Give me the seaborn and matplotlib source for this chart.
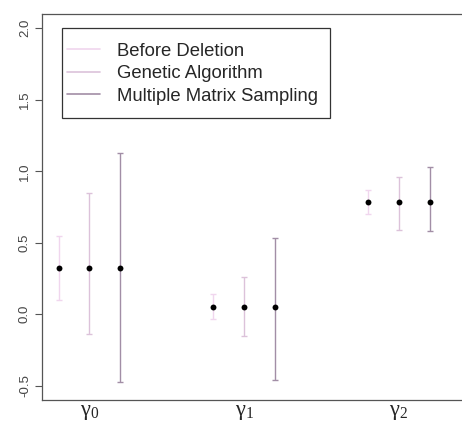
import matplotlib
matplotlib.use("Agg")
import matplotlib.pyplot as plt
import matplotlib.patches as mpatches
import seaborn as sns
import pandas as pd
import numpy as np

params = [r"$\mathrm{\gamma}_{0}$", r"$\mathrm{\gamma}_{1}$", r"$\mathrm{\gamma}_{2}$"]
methods = ["Before Deletion", "Genetic Algorithm", "Multiple Matrix Sampling"]
estimate = [0.32, 0.05, 0.785]
lower = {
    "Before Deletion": [0.10, -0.03, 0.70],
    "Genetic Algorithm": [-0.135, -0.155, 0.59],
    "Multiple Matrix Sampling": [-0.475, -0.46, 0.58],
}
upper = {
    "Before Deletion": [0.545, 0.14, 0.87],
    "Genetic Algorithm": [0.85, 0.26, 0.96],
    "Multiple Matrix Sampling": [1.13, 0.53, 1.03],
}
colors = {"Before Deletion": "#f0d6ee", "Genetic Algorithm": "#dcc2da", "Multiple Matrix Sampling": "#a28ea6"}
yticks = [-0.5, 0.0, 0.5, 1.0, 1.5, 2.0]

offsets = {m: o for m, o in zip(methods, [-0.2, 0.0, 0.2])}
rows = []
for i, p in enumerate(params):
    for m in methods:
        rows.append({"param": p, "method": m, "x": i + 1 + offsets[m],
                     "est": estimate[i], "lo": lower[m][i], "hi": upper[m][i]})
df = pd.DataFrame(rows)

sns.set_style("white")
plt.rcParams["font.family"] = ["Liberation Sans", "DejaVu Sans"]
plt.rcParams["mathtext.fontset"] = "custom"
plt.rcParams["mathtext.rm"] = "Liberation Serif"
plt.rcParams["mathtext.it"] = "Liberation Serif"

W, H = 462, 425
fig = plt.figure(figsize=(W / 100, H / 100), dpi=100)
ax = fig.add_axes([42 / W, 25 / H, 1 - 42 / W + 0.01, 386 / H])

for m in methods:
    sub = df[df.method == m]
    ax.errorbar(sub.x, sub.est, yerr=[sub.est - sub.lo, sub.hi - sub.est], fmt="none",
                ecolor=colors[m], elinewidth=1.0, capsize=2.2, capthick=1.0, label=m)
sns.scatterplot(data=df, x="x", y="est", color="black", s=18, edgecolor="black",
                linewidth=0, ax=ax, zorder=5, legend=False)

ax.set_xlim(0.693, 3.44)
ax.set_ylim(-0.6, 2.1)
ax.set_xticks([1, 2, 3])
ax.set_xticklabels(params, fontsize=16)
ax.set_yticks(yticks)
ax.set_yticklabels([f"{v:.1f}" for v in yticks], rotation=90, va="center", fontsize=9.5, color="#444444")
ax.tick_params(axis="y", length=5, width=0.8, color="#555555", left=True, pad=3)
ax.tick_params(axis="x", length=0, pad=1)
ax.set_xlabel("")
ax.set_ylabel("")
for s in ["left", "top", "bottom"]:
    ax.spines[s].set_color("#555555")
    ax.spines[s].set_linewidth(0.9)
ax.spines["right"].set_visible(False)

handles = [plt.Line2D([], [], color=colors[m], lw=1.2) for m in methods]
leg = ax.legend(handles, methods, loc="upper left", bbox_to_anchor=(67 / W, 1 - 42.5 / H),
                bbox_transform=fig.transFigure,
                frameon=False, fontsize=13.3, handlelength=1.8,
                handletextpad=0.9, labelspacing=0.3, borderpad=0, borderaxespad=0)
frame = mpatches.Rectangle((62 / W, 1 - 118 / H), (330 - 62) / W, 90 / H,
                           transform=fig.transFigure, fill=False,
                           edgecolor="#333333", linewidth=0.9, zorder=10)
fig.add_artist(frame)

fig.savefig("out.png", dpi=100)
